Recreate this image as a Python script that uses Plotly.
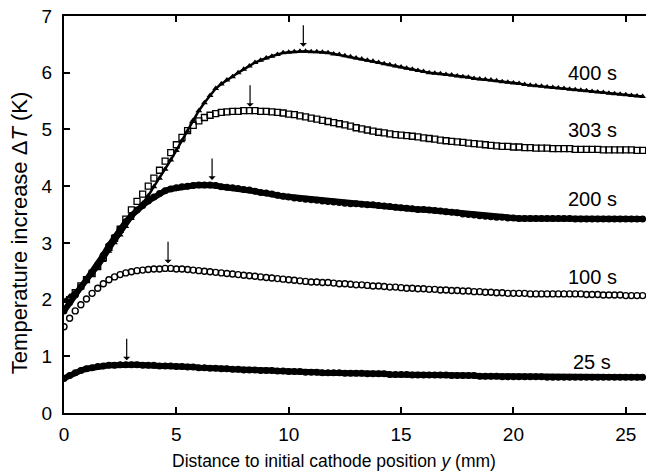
import plotly.graph_objects as go

# x positions (mm)
x_mm = [0.0, 0.25, 0.5, 0.75, 1.0, 1.25, 1.5, 1.75, 2.0, 2.25, 2.5, 2.75, 3.0, 3.25, 3.5, 3.75,
        4.0, 4.25, 4.5, 4.75, 5.0, 5.25, 5.5, 5.75, 6.0, 6.25, 6.5, 6.75, 7.0, 7.25, 7.5, 7.75,
        8.0, 8.25, 8.5, 8.75, 9.0, 9.25, 9.5, 9.75, 10.0, 10.25, 10.5, 10.75, 11.0, 11.25, 11.5, 11.75,
        12.0, 12.25, 12.5, 12.75, 13.0, 13.25, 13.5, 13.75, 14.0, 14.25, 14.5, 14.75, 15.0, 15.25, 15.5, 15.75,
        16.0, 16.25, 16.5, 16.75, 17.0, 17.25, 17.5, 17.75, 18.0, 18.25, 18.5, 18.75, 19.0, 19.25, 19.5, 19.75,
        20.0, 20.25, 20.5, 20.75, 21.0, 21.25, 21.5, 21.75, 22.0, 22.25, 22.5, 22.75, 23.0, 23.25, 23.5, 23.75,
        24.0, 24.25, 24.5, 24.75, 25.0, 25.25, 25.5, 25.75]

dT_400 = [1.98, 2.06, 2.14, 2.23, 2.32, 2.43, 2.55, 2.69, 2.85, 3.00, 3.14, 3.29, 3.43, 3.57, 3.70, 3.83,
          3.99, 4.14, 4.30, 4.46, 4.63, 4.80, 4.97, 5.16, 5.33, 5.47, 5.60, 5.72, 5.80, 5.87, 5.93, 6.00,
          6.06, 6.12, 6.18, 6.22, 6.26, 6.29, 6.32, 6.35, 6.36, 6.37, 6.38, 6.38, 6.37, 6.37, 6.36, 6.35,
          6.33, 6.32, 6.30, 6.28, 6.26, 6.24, 6.22, 6.20, 6.18, 6.16, 6.14, 6.12, 6.10, 6.08, 6.06, 6.04,
          6.02, 6.00, 5.99, 5.98, 5.97, 5.96, 5.94, 5.93, 5.92, 5.90, 5.89, 5.88, 5.87, 5.86, 5.84, 5.83,
          5.82, 5.81, 5.79, 5.78, 5.77, 5.76, 5.75, 5.74, 5.73, 5.72, 5.71, 5.70, 5.69, 5.68, 5.67, 5.66,
          5.65, 5.64, 5.63, 5.62, 5.61, 5.60, 5.59, 5.58]

dT_303 = [1.90, 2.00, 2.12, 2.24, 2.35, 2.46, 2.58, 2.74, 2.92, 3.08, 3.24, 3.42, 3.58, 3.73, 3.86, 4.00,
          4.14, 4.28, 4.44, 4.59, 4.73, 4.86, 4.98, 5.07, 5.15, 5.21, 5.25, 5.28, 5.30, 5.31, 5.32, 5.32,
          5.33, 5.33, 5.33, 5.32, 5.32, 5.31, 5.30, 5.29, 5.27, 5.26, 5.24, 5.22, 5.20, 5.18, 5.16, 5.14,
          5.12, 5.10, 5.08, 5.06, 5.03, 5.01, 4.99, 4.97, 4.95, 4.94, 4.92, 4.91, 4.90, 4.89, 4.88, 4.87,
          4.85, 4.84, 4.83, 4.81, 4.80, 4.79, 4.78, 4.77, 4.76, 4.75, 4.74, 4.73, 4.72, 4.71, 4.70, 4.70,
          4.69, 4.69, 4.68, 4.68, 4.67, 4.67, 4.67, 4.66, 4.66, 4.66, 4.66, 4.65, 4.65, 4.65, 4.65, 4.65,
          4.64, 4.64, 4.64, 4.64, 4.64, 4.64, 4.63, 4.63]

dT_200 = [1.80, 1.95, 2.08, 2.22, 2.35, 2.48, 2.62, 2.78, 2.95, 3.10, 3.24, 3.37, 3.48, 3.58, 3.66, 3.74,
          3.81, 3.87, 3.92, 3.95, 3.97, 3.99, 4.00, 4.01, 4.02, 4.02, 4.02, 4.01, 3.99, 3.98, 3.97, 3.96,
          3.94, 3.93, 3.91, 3.89, 3.88, 3.86, 3.84, 3.82, 3.81, 3.79, 3.78, 3.77, 3.76, 3.75, 3.74, 3.73,
          3.72, 3.71, 3.70, 3.69, 3.69, 3.68, 3.67, 3.67, 3.66, 3.65, 3.64, 3.63, 3.62, 3.61, 3.60, 3.59,
          3.59, 3.58, 3.57, 3.56, 3.55, 3.54, 3.53, 3.51, 3.50, 3.49, 3.48, 3.47, 3.46, 3.45, 3.45, 3.44,
          3.44, 3.43, 3.43, 3.43, 3.43, 3.43, 3.43, 3.43, 3.43, 3.43, 3.43, 3.42, 3.42, 3.42, 3.42, 3.42,
          3.42, 3.42, 3.42, 3.42, 3.42, 3.42, 3.42, 3.42]

dT_100 = [1.52, 1.67, 1.80, 1.91, 2.01, 2.11, 2.20, 2.28, 2.35, 2.40, 2.44, 2.47, 2.49, 2.51, 2.52, 2.53,
          2.54, 2.54, 2.55, 2.55, 2.54, 2.54, 2.53, 2.52, 2.51, 2.50, 2.49, 2.48, 2.47, 2.46, 2.45, 2.44,
          2.43, 2.42, 2.41, 2.40, 2.39, 2.38, 2.37, 2.36, 2.35, 2.34, 2.33, 2.32, 2.31, 2.31, 2.30, 2.30,
          2.29, 2.28, 2.28, 2.27, 2.26, 2.26, 2.25, 2.24, 2.24, 2.23, 2.22, 2.22, 2.21, 2.20, 2.20, 2.19,
          2.19, 2.18, 2.18, 2.17, 2.17, 2.16, 2.16, 2.15, 2.15, 2.14, 2.14, 2.13, 2.13, 2.12, 2.12, 2.11,
          2.11, 2.11, 2.11, 2.10, 2.10, 2.10, 2.10, 2.10, 2.10, 2.10, 2.10, 2.10, 2.10, 2.09, 2.09, 2.09,
          2.08, 2.08, 2.08, 2.08, 2.07, 2.07, 2.07, 2.07]

dT_25 = [0.61, 0.66, 0.71, 0.75, 0.78, 0.80, 0.82, 0.83, 0.84, 0.84, 0.85, 0.85, 0.85, 0.85, 0.84, 0.84,
         0.84, 0.83, 0.83, 0.83, 0.82, 0.82, 0.81, 0.81, 0.80, 0.80, 0.79, 0.79, 0.78, 0.78, 0.77, 0.77,
         0.76, 0.76, 0.76, 0.75, 0.75, 0.75, 0.74, 0.74, 0.73, 0.73, 0.73, 0.72, 0.72, 0.72, 0.71, 0.71,
         0.71, 0.71, 0.70, 0.70, 0.70, 0.70, 0.69, 0.69, 0.69, 0.69, 0.68, 0.68, 0.68, 0.68, 0.67, 0.67,
         0.67, 0.67, 0.67, 0.67, 0.67, 0.66, 0.66, 0.66, 0.66, 0.66, 0.65, 0.65, 0.65, 0.65, 0.64, 0.64,
         0.64, 0.64, 0.64, 0.64, 0.64, 0.64, 0.63, 0.63, 0.63, 0.63, 0.63, 0.63, 0.63, 0.63, 0.63, 0.63,
         0.63, 0.63, 0.63, 0.63, 0.63, 0.63, 0.63, 0.63]

series_labels = ["400 s", "303 s", "200 s", "100 s", "25 s"]
label_y = [5.99, 4.99, 3.78, 2.40, 0.90]
label_x = [24.7, 24.7, 24.7, 24.7, 24.45]

# arrows marking maxima (tip positions)
arrow_x = [10.65, 8.28, 6.59, 4.63, 2.79]
arrow_y = [6.46, 5.40, 4.11, 2.64, 0.93]

x_ticks = [0, 5, 10, 15, 20, 25]
y_ticks = [0, 1, 2, 3, 4, 5, 6, 7]

x_title = "Distance to initial cathode position <i>y</i> (mm)"
y_title = "Temperature increase Δ<i>T</i> (K)"

FONT = "Liberation Sans, Arial, Helvetica, sans-serif"

fig = go.Figure()

fig.add_trace(go.Scatter(x=x_mm, y=dT_25, mode="lines+markers",
                         line=dict(color="black", width=6),
                         marker=dict(symbol="circle", size=7, color="black"), name="25 s"))
fig.add_trace(go.Scatter(x=x_mm, y=dT_100, mode="markers",
                         marker=dict(symbol="circle-open", size=6, color="black", line=dict(width=1.4)),
                         name="100 s"))
fig.add_trace(go.Scatter(x=x_mm, y=dT_200, mode="lines+markers",
                         line=dict(color="black", width=6),
                         marker=dict(symbol="circle", size=7, color="black"), name="200 s"))
fig.add_trace(go.Scatter(x=x_mm, y=dT_303, mode="markers",
                         marker=dict(symbol="square-open", size=6, color="black", line=dict(width=1.3)),
                         name="303 s"))
fig.add_trace(go.Scatter(x=x_mm, y=dT_400, mode="lines+markers",
                         line=dict(color="black", width=2.5),
                         marker=dict(symbol="triangle-up", size=6, color="black"), name="400 s"))

for lx, ly, txt in zip(label_x, label_y, series_labels):
    fig.add_annotation(x=lx, y=ly, text=txt, showarrow=False, xanchor="right", yanchor="middle",
                       font=dict(size=20, color="black", family=FONT))

for axx, axy in zip(arrow_x, arrow_y):
    fig.add_annotation(x=axx, y=axy, ax=0, ay=-23, text="", showarrow=True,
                       arrowhead=1, arrowsize=1.0, arrowwidth=1.2, arrowcolor="black")

# axis titles (placed as in the reference)
fig.add_annotation(xref="paper", yref="paper", x=0.464, y=-0.121, text=x_title, showarrow=False,
                   xanchor="center", yanchor="middle", font=dict(size=17.5, color="black", family=FONT))
fig.add_annotation(xref="paper", yref="paper", x=-0.0773, y=0.453, text=y_title, showarrow=False,
                   textangle=-90, xanchor="center", yanchor="middle",
                   font=dict(size=22, color="black", family=FONT))

fig.update_layout(
    width=646, height=472,
    margin=dict(l=64, r=0, t=16, b=59),
    plot_bgcolor="white", paper_bgcolor="white",
    showlegend=False,
    font=dict(family=FONT, size=18, color="black"),
)
fig.update_xaxes(range=[0, 25.9], tickvals=x_ticks, ticks="inside", ticklen=6, tickwidth=1.5,
                 tickcolor="black", showline=True, linewidth=2, linecolor="black", mirror="ticks",
                 showgrid=False, zeroline=False, tickfont=dict(size=19), automargin=False,
                 ticklabelstandoff=3)
fig.update_yaxes(range=[0, 7], tickvals=y_ticks, ticks="inside", ticklen=6, tickwidth=1.5,
                 tickcolor="black", showline=True, linewidth=2, linecolor="black", mirror=False,
                 showgrid=False, zeroline=False, tickfont=dict(size=19), automargin=False,
                 ticklabelstandoff=6)

fig.write_html("out.html", config={"displayModeBar": False},
               post_script="document.body.style.margin='0';document.body.style.overflow='hidden';")
